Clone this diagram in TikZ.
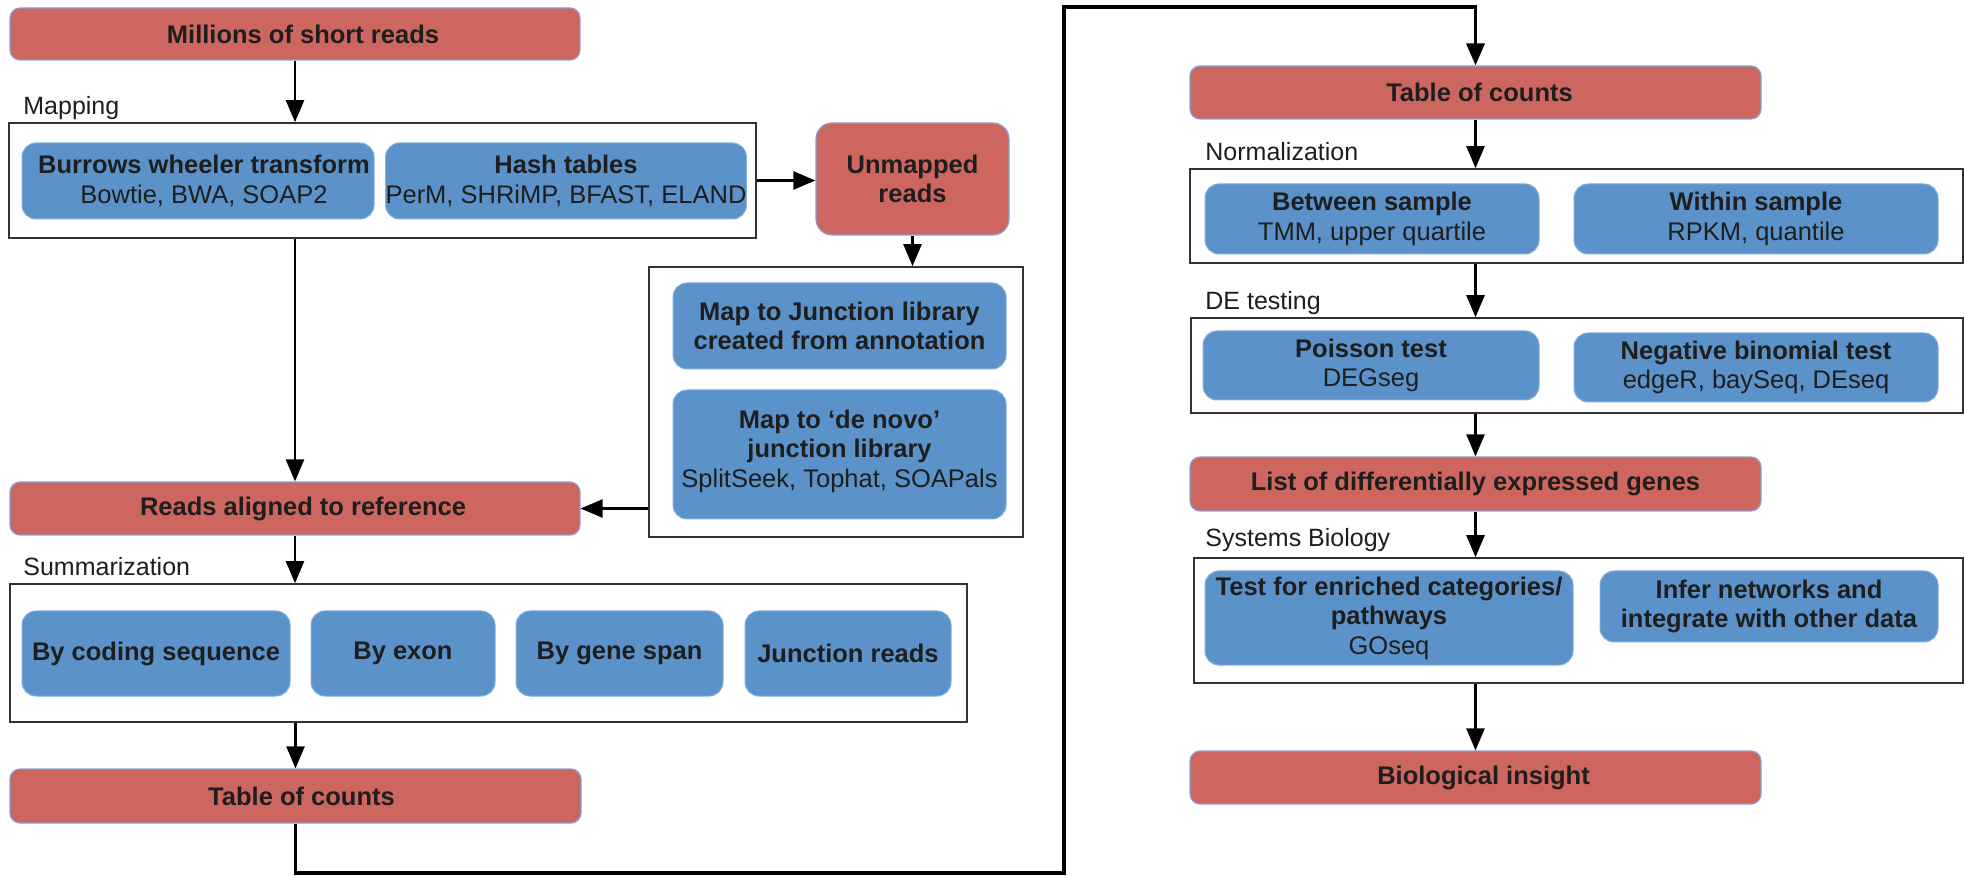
\documentclass[tikz,border=0pt]{standalone}
\usepackage{fontspec}
\setmainfont{Liberation Sans}
\usetikzlibrary{arrows.meta}
\definecolor{redc}{RGB}{204,102,94}
\definecolor{redline}{RGB}{140,160,210}
\definecolor{bluec}{RGB}{91,146,201}
\definecolor{blueline}{RGB}{130,175,220}
\definecolor{txt}{RGB}{30,30,30}
\begin{document}
\begin{tikzpicture}[x=0.5pt,y=-0.5pt,
 base/.style={inner sep=0pt, align=center, font=\fontsize{12.75}{14.75}\selectfont, text=txt},
 redbox/.style={base, fill=redc, draw=redline, line width=0.6pt, rounded corners=5pt},
 bluebox/.style={base, fill=bluec, draw=blueline, line width=0.5pt, rounded corners=7pt},
 group/.style={draw=black!80, line width=0.8pt, inner sep=0pt},
 lbl/.style={anchor=west, inner sep=0pt, font=\fontsize{12.5}{14.5}\selectfont, text=txt},
 arr/.style={line width=1.2pt, -{Triangle[width=9pt,length=11pt]}},
 loopline/.style={line width=1.8pt, -{Triangle[width=9pt,length=11pt]}},
]
\fill[white] (0,0) rectangle (1965,876);
\useasboundingbox (0,0) rectangle (1965,876);

% ---------- left column ----------
\node[redbox, minimum width=285pt, minimum height=26pt] (mil) at (295,34) {\hspace*{8pt}\textbf{Millions of short reads}};
\node[lbl] (maplbl) at (23,108) {Mapping};
\node[group, minimum width=373.5pt, minimum height=57.5pt] (mapc) at (382.5,180.5) {};
\node[bluebox, minimum width=176pt, minimum height=38pt] (bwt) at (198,181) {\hspace*{6pt}\textbf{Burrows wheeler transform}\\\hspace*{6pt}Bowtie, BWA, SOAP2};
\node[bluebox, minimum width=180pt, minimum height=38pt] (hash) at (566,181) {\textbf{Hash tables}\\PerM, SHRiMP, BFAST, ELAND};
\node[redbox, rounded corners=8pt, minimum width=96.5pt, minimum height=56pt] (unm) at (912.5,179) {\textbf{Unmapped}\\\textbf{reads}};
\node[group, minimum width=187pt, minimum height=135pt] (jc) at (836,402) {};
\node[bluebox, minimum width=166.5pt, minimum height=43pt] (jlib) at (839.5,326) {\textbf{Map to Junction library}\\\textbf{created from annotation}};
\node[bluebox, minimum width=166.5pt, minimum height=64.5pt] (dnv) at (839.5,454.5) {\textbf{Map to ‘de novo’}\\\textbf{junction library}\\SplitSeek, Tophat, SOAPals\\[-9pt]\mbox{}};
\node[redbox, minimum width=285pt, minimum height=26.5pt] (rds) at (295,508.5) {\hspace*{8pt}\textbf{Reads aligned to reference}};
\node[lbl] (sumlbl) at (23,567) {Summarization};
\node[group, minimum width=478.5pt, minimum height=69pt] (sumc) at (488.5,653) {};
\node[bluebox, minimum width=134pt, minimum height=42.5pt] (bcs) at (156,653.5) {\textbf{By coding sequence}};
\node[bluebox, minimum width=92pt, minimum height=42.5pt] (bex) at (403,653.5) {\textbf{By exon}};
\node[bluebox, minimum width=103.5pt, minimum height=42.5pt] (bgs) at (619.5,653.5) {\textbf{By gene span}};
\node[bluebox, minimum width=103pt, minimum height=42.5pt] (jrd) at (848,653.5) {\textbf{Junction reads}};
\node[redbox, minimum width=285.5pt, minimum height=27pt] (toc1) at (295.5,796) {\hspace*{6pt}\textbf{Table of counts}};

% ---------- right column ----------
\node[redbox, minimum width=285.5pt, minimum height=26.5pt] (toc2) at (1475.5,92.5) {\hspace*{4pt}\textbf{Table of counts}};
\node[lbl] (normlbl) at (1205,152) {Normalization};
\node[group, minimum width=386.5pt, minimum height=47pt] (normc) at (1576.5,216) {};
\node[bluebox, minimum width=167pt, minimum height=35pt] (btw) at (1372,219) {\textbf{Between sample}\\TMM, upper quartile};
\node[bluebox, minimum width=182pt, minimum height=35pt] (wth) at (1756,219) {\textbf{Within sample}\\RPKM, quantile};
\node[lbl] (delbl) at (1205,303) {DE testing};
\node[group, minimum width=386pt, minimum height=47.5pt] (dec) at (1577,365.5) {};
\node[bluebox, minimum width=168pt, minimum height=34.5pt] (poi) at (1371,365.5) {\textbf{Poisson test}\\DEGseg};
\node[bluebox, minimum width=182pt, minimum height=34.5pt] (nbt) at (1756,367.5) {\textbf{Negative binomial test}\\edgeR, baySeq, DEseq};
\node[redbox, minimum width=285.5pt, minimum height=27pt] (deg) at (1475.5,484) {\textbf{List of differentially expressed genes}};
\node[lbl] (syslbl) at (1205,540) {Systems Biology};
\node[group, minimum width=384.5pt, minimum height=62.5pt] (sysc) at (1578.5,620.5) {};
\node[bluebox, minimum width=184pt, minimum height=47pt] (tfe) at (1389,618) {\textbf{Test for enriched categories/}\\\textbf{pathways}\\GOseq};
\node[bluebox, minimum width=169pt, minimum height=35.5pt] (inf) at (1769,606.5) {\textbf{Infer networks and}\\\textbf{integrate with other data}};
\node[redbox, minimum width=285.5pt, minimum height=26.5pt] (bio) at (1475.5,777.5) {\hspace*{8pt}\textbf{Biological insight}};

% ---------- connectors ----------
\draw[arr] (mil.south) -- (mil.south |- mapc.north);
\draw[arr] (mapc.east) -- (mapc.east -| unm.west);
\draw[arr] (unm.south) -- (unm.south |- jc.north);
\draw[arr] (mapc.south -| rds.north) -- (rds.north);
\draw[arr] (jc.west |- rds.east) -- (rds.east);
\draw[arr] (rds.south) -- (rds.south |- sumc.north);
\draw[arr] (sumc.south -| toc1.north) -- (toc1.north);
\coordinate (lp1) at (1064,873);
\coordinate (lp2) at (1064,7);
\draw[loopline] (toc1.south) |- (lp1) -- (lp2) -| (toc2.north);

\draw[arr] (toc2.south) -- (toc2.south |- normc.north);
\draw[arr] (toc2.south |- normc.south) -- (toc2.south |- dec.north);
\draw[arr] (toc2.south |- dec.south) -- (deg.north);
\draw[arr] (deg.south) -- (deg.south |- sysc.north);
\draw[arr] (deg.south |- sysc.south) -- (bio.north);
\end{tikzpicture}
\end{document}
